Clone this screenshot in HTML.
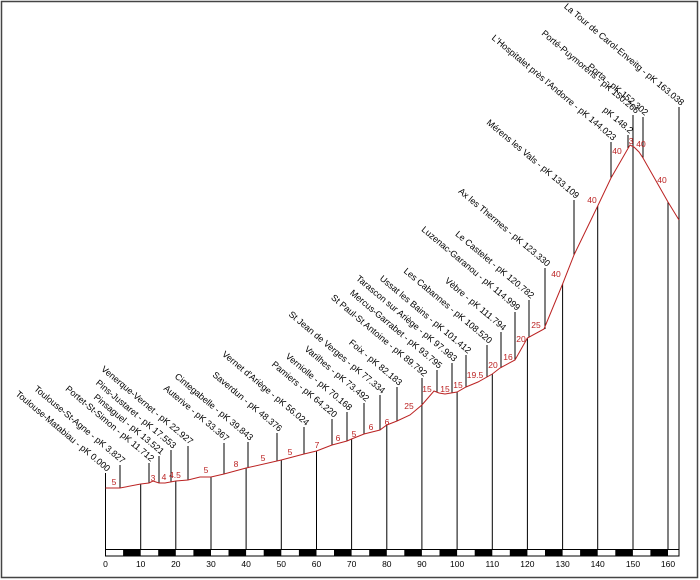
<!DOCTYPE html>
<html><head><meta charset="utf-8"><style>
html,body{margin:0;padding:0;background:#fff;}
svg{display:block;}
.s{font-family:"Liberation Sans",sans-serif;font-size:9px;fill:#000;}
.g{font-family:"Liberation Sans",sans-serif;font-size:8.5px;fill:#b22;text-anchor:middle;}
.k{font-family:"Liberation Sans",sans-serif;font-size:8.5px;fill:#000;text-anchor:middle;}
</style></head><body>
<svg width="700" height="580" viewBox="0 0 700 580" xmlns="http://www.w3.org/2000/svg">
<rect x="0" y="0" width="700" height="580" fill="#fff"/>
<rect x="1.5" y="1.5" width="696" height="576" fill="none" stroke="#444" stroke-width="1.5"/>
<g stroke="#000" stroke-width="1">
<line x1="105.5" y1="549" x2="105.5" y2="473"/>
<line x1="140.7" y1="549" x2="140.7" y2="484"/>
<line x1="175.8" y1="549" x2="175.8" y2="481"/>
<line x1="211" y1="549" x2="211" y2="477"/>
<line x1="246.1" y1="549" x2="246.1" y2="468"/>
<line x1="281.3" y1="549" x2="281.3" y2="460"/>
<line x1="316.5" y1="549" x2="316.5" y2="451"/>
<line x1="351.6" y1="549" x2="351.6" y2="439"/>
<line x1="386.8" y1="549" x2="386.8" y2="425"/>
<line x1="421.9" y1="549" x2="421.9" y2="405"/>
<line x1="457.1" y1="549" x2="457.1" y2="392"/>
<line x1="492.3" y1="549" x2="492.3" y2="374"/>
<line x1="527.4" y1="549" x2="527.4" y2="338"/>
<line x1="562.6" y1="549" x2="562.6" y2="284"/>
<line x1="597.7" y1="549" x2="597.7" y2="206"/>
<line x1="633" y1="549" x2="633" y2="115"/>
<line x1="668" y1="549" x2="668" y2="202"/>
<line x1="679" y1="549" x2="679" y2="107"/>
<line x1="120" y1="488" x2="120" y2="465"/>
<line x1="149" y1="483" x2="149" y2="463"/>
<line x1="159" y1="483" x2="159" y2="456"/>
<line x1="171" y1="482" x2="171" y2="450"/>
<line x1="188" y1="480" x2="188" y2="446"/>
<line x1="224" y1="474" x2="224" y2="443"/>
<line x1="248" y1="468" x2="248" y2="442"/>
<line x1="277" y1="461" x2="277" y2="433"/>
<line x1="304" y1="454" x2="304" y2="427"/>
<line x1="332" y1="445" x2="332" y2="419"/>
<line x1="347" y1="441" x2="347" y2="412"/>
<line x1="364" y1="434" x2="364" y2="403"/>
<line x1="380" y1="430" x2="380" y2="395"/>
<line x1="397" y1="421" x2="397" y2="387"/>
<line x1="422" y1="405" x2="422" y2="378"/>
<line x1="437" y1="392" x2="437" y2="370"/>
<line x1="452" y1="393" x2="452" y2="363"/>
<line x1="466" y1="387" x2="466" y2="355"/>
<line x1="487" y1="377" x2="487" y2="345"/>
<line x1="501" y1="368" x2="501" y2="332"/>
<line x1="515" y1="360" x2="515" y2="312"/>
<line x1="529" y1="337" x2="529" y2="300"/>
<line x1="545" y1="329" x2="545" y2="268"/>
<line x1="574" y1="255" x2="574" y2="200"/>
<line x1="611" y1="178" x2="611" y2="142"/>
<line x1="628" y1="148" x2="628" y2="135"/>
<line x1="643" y1="158" x2="643" y2="117"/>
</g>
<polyline fill="none" stroke="#b22" stroke-width="1" points="105.5,488 120,488 140.7,484 149,483 153,481 159,483 165,483 175.8,481 188,480 200,477 211,477 224,474 246.1,468 281.3,460 304,454 316.5,451 332,445 347,441 351.6,439 364,434 380,430 386.8,425 397,421 410,415 421.9,405 434,391 439,393 445,394 457.1,392 466,387 478,382 492.3,374 500,368 515,360 527.4,338 544,329 562.6,284 574,255 597.7,206 611,178 630,145 634,147 639,152 643,158 668,202 679,220"/>
<rect x="105.5" y="549.5" width="573.5" height="6.5" fill="#fff" stroke="#000" stroke-width="1"/>
<g fill="#000">
<rect x="123.1" y="549.5" width="17.6" height="6.5"/>
<rect x="158.2" y="549.5" width="17.6" height="6.5"/>
<rect x="193.4" y="549.5" width="17.6" height="6.5"/>
<rect x="228.5" y="549.5" width="17.6" height="6.5"/>
<rect x="263.7" y="549.5" width="17.6" height="6.5"/>
<rect x="298.9" y="549.5" width="17.6" height="6.5"/>
<rect x="334" y="549.5" width="17.6" height="6.5"/>
<rect x="369.2" y="549.5" width="17.6" height="6.5"/>
<rect x="404.3" y="549.5" width="17.6" height="6.5"/>
<rect x="439.5" y="549.5" width="17.6" height="6.5"/>
<rect x="474.7" y="549.5" width="17.6" height="6.5"/>
<rect x="509.8" y="549.5" width="17.6" height="6.5"/>
<rect x="545" y="549.5" width="17.6" height="6.5"/>
<rect x="580.1" y="549.5" width="17.6" height="6.5"/>
<rect x="615.3" y="549.5" width="17.6" height="6.5"/>
<rect x="650.4" y="549.5" width="17.6" height="6.5"/>
</g>
<g class="k">
<text x="105.5" y="567">0</text><text x="140.7" y="567">10</text><text x="175.8" y="567">20</text><text x="211" y="567">30</text><text x="246.1" y="567">40</text><text x="281.3" y="567">50</text><text x="316.5" y="567">60</text><text x="351.6" y="567">70</text><text x="386.8" y="567">80</text><text x="421.9" y="567">90</text><text x="457.1" y="567">100</text><text x="492.3" y="567">110</text><text x="527.4" y="567">120</text><text x="562.6" y="567">130</text><text x="597.7" y="567">140</text><text x="633" y="567">150</text><text x="668" y="567">160</text>
</g>
<g class="g">
<text x="114" y="485">5</text><text x="153" y="481">3</text><text x="164" y="480">4</text><text x="175" y="478">4.5</text>
<text x="206" y="473">5</text><text x="236" y="467">8</text><text x="263" y="461">5</text><text x="290" y="455">5</text>
<text x="317" y="448">7</text><text x="338" y="441">6</text><text x="354" y="437">5</text><text x="371" y="430">6</text>
<text x="387" y="425">6</text><text x="409" y="409">25</text><text x="427" y="392">15</text><text x="445" y="392">15</text>
<text x="458" y="388">15</text><text x="475" y="378">19.5</text><text x="493" y="368">20</text><text x="508" y="360">16</text>
<text x="521" y="342">20</text><text x="536" y="328">25</text><text x="556" y="277">40</text><text x="592" y="203">40</text>
<text x="617" y="154">40</text><text x="631" y="144">3</text><text x="641" y="147">40</text><text x="662" y="183">40</text>
</g>
<g class="s" text-anchor="end">
<text transform="translate(107,472) rotate(40)">Toulouse-Matabiau - pK 0.000</text>
<text transform="translate(122,464) rotate(40)">Toulouse-St-Agne - pK 3.827</text>
<text transform="translate(151,462) rotate(40)">Portet-St-Simon - pK 11.712</text>
<text transform="translate(161,455) rotate(40)">Pinsaguel - pK 13.521</text>
<text transform="translate(173,449) rotate(40)">Pins-Justaret - pK 17.553</text>
<text transform="translate(190,445) rotate(40)">Venerque-Vernet - pK 22.927</text>
<text transform="translate(226,442) rotate(40)">Auterive - pK 33.367</text>
<text transform="translate(250,441) rotate(40)">Cintegabelle - pK 39.843</text>
<text transform="translate(279,432) rotate(40)">Saverdun - pK 48.376</text>
<text transform="translate(306,426) rotate(40)">Vernet d'Ariège - pK 56.024</text>
<text transform="translate(334,418) rotate(40)">Pamiers - pK 64.220</text>
<text transform="translate(349,411) rotate(40)">Verniolle - pK 70.168</text>
<text transform="translate(366,402) rotate(40)">Varilhes - pK 73.492</text>
<text transform="translate(382,394) rotate(40)">St Jean de Verges - pK 77.334</text>
<text transform="translate(399,386) rotate(40)">Foix - pK 82.183</text>
<text transform="translate(424,377) rotate(40)">St Paul-St Antoine - pK 89.792</text>
<text transform="translate(439,369) rotate(40)">Mercus-Garrabet - pK 93.795</text>
<text transform="translate(454,362) rotate(40)">Tarascon sur Ariège - pK 97.983</text>
<text transform="translate(468,354) rotate(40)">Ussat les Bains - pK 101.412</text>
<text transform="translate(489,344) rotate(40)">Les Cabannes - pK 108.520</text>
<text transform="translate(503,331) rotate(40)">Vèbre - pK 111.794</text>
<text transform="translate(517,311) rotate(40)">Luzenac-Garanou - pK 114.999</text>
<text transform="translate(531,299) rotate(40)">Le Castelet - pK 120.782</text>
<text transform="translate(547,267) rotate(40)">Ax les Thermes - pK 123.330</text>
<text transform="translate(576,199) rotate(40)">Mérens les Vals - pK 133.109</text>
<text transform="translate(613,141) rotate(40)">L'Hospitalet près l'Andorre - pK 144.023</text>
<text transform="translate(630,134) rotate(40)">pK 148.2</text>
<text transform="translate(636,114) rotate(40)">Porté-Puymorens - pK 150.266</text>
<text transform="translate(645,116) rotate(40)">Porta - pK 152.302</text>
<text transform="translate(681,106) rotate(40)">La Tour de Carol-Enveitg - pK 163.038</text>
</g>
</svg>
</body></html>
